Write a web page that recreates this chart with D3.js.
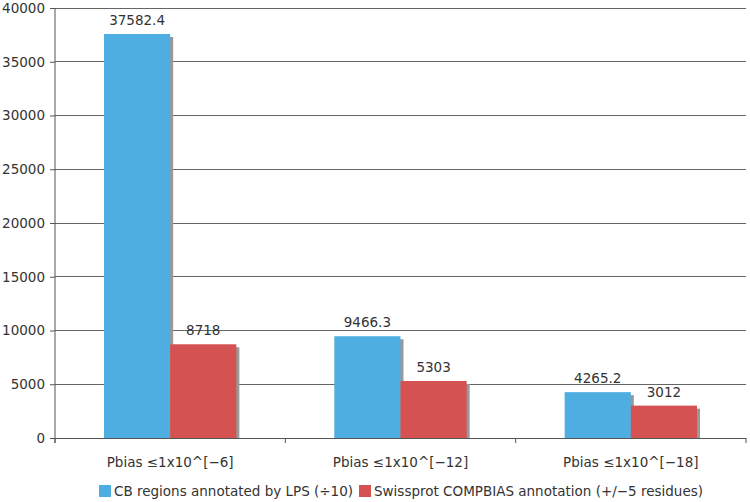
<!DOCTYPE html>
<html><head><meta charset="utf-8">
<script src="https://cdn.jsdelivr.net/npm/d3@7"></script>
<style>body{margin:0;background:#fff}svg{display:block}text{font-family:Verdana,"DejaVu Sans",sans-serif;fill:#333}</style>
</head><body><svg id="c" width="750" height="502"></svg>
<script>
const categories = ["Pbias \u22641x10^[\u22126]", "Pbias \u22641x10^[\u221212]", "Pbias \u22641x10^[\u221218]"];
const seriesNames = ["CB regions annotated by LPS (\u00f710)", "Swissprot COMPBIAS annotation (+/\u22125 residues)"];
const cbValues = [37582.4, 9466.3, 4265.2];
const swissValues = [8718, 5303, 3012];
const valueLabels = [["37582.4", "9466.3", "4265.2"], ["8718", "5303", "3012"]];
const yTicks = [0, 5000, 10000, 15000, 20000, 25000, 30000, 35000, 40000];
const colors = ["#4FAEE1", "#D55252"];

const svg = d3.select("#c");
const m = {l: 55, r: 4, t: 8, b: 64};
const W = 750, H = 502;
const FS = 13.5;
const x0 = d3.scaleBand().domain(categories).range([m.l, W - m.r]).paddingInner(0).paddingOuter(0);
const x1 = d3.scaleBand().domain([0, 1]).range([0, x0.bandwidth()]).paddingOuter(0.74).paddingInner(0);
const y = d3.scaleLinear().domain([0, 40000]).range([H - m.b, m.t]);

// gridlines
svg.append("g").selectAll("line").data(yTicks.slice(1)).join("line")
  .attr("x1", m.l).attr("x2", W - m.r).attr("y1", d => y(d)).attr("y2", d => y(d))
  .attr("stroke", "#666").attr("stroke-width", 1).attr("shape-rendering", "crispEdges");

// y axis
const ya = svg.append("g").attr("transform", `translate(${m.l},0)`)
  .call(d3.axisLeft(y).tickValues(yTicks).tickSize(5).tickPadding(5).tickFormat(d3.format("d")));
ya.select(".domain").attr("stroke", "#555").attr("d", `M0,${y(40000)}V${y(0)+5}`);
ya.selectAll(".tick line").attr("stroke", "#555");
ya.selectAll("text").attr("font-size", FS).attr("fill", "#333").attr("font-family", "Verdana, 'DejaVu Sans', sans-serif");

const series = [cbValues, swissValues];
const data = [];
categories.forEach((c, i) => series.forEach((s, j) => data.push({c, j, v: s[i], lab: valueLabels[j][i]})));

// shadows
svg.append("g").selectAll("rect").data(data).join("rect")
  .attr("x", d => x0(d.c) + x1(d.j) + 3).attr("y", d => y(d.v) + 3)
  .attr("width", x1.bandwidth()).attr("height", d => y(0) - y(d.v) - 3)
  .attr("fill", "#999");
// bars
svg.append("g").selectAll("rect").data(data).join("rect")
  .attr("x", d => x0(d.c) + x1(d.j)).attr("y", d => y(d.v))
  .attr("width", x1.bandwidth()).attr("height", d => y(0) - y(d.v))
  .attr("fill", d => colors[d.j]);

// x axis
const xa = svg.append("g").attr("transform", `translate(0,${y(0)})`);
xa.append("line").attr("x1", m.l).attr("x2", W - m.r).attr("stroke", "#555").attr("shape-rendering", "crispEdges");
xa.selectAll("line.t").data(categories.map(c => x0(c) + x0.bandwidth()).concat([m.l])).join("line").attr("class", "t")
  .attr("x1", d => d).attr("x2", d => d).attr("y1", 0).attr("y2", 5).attr("stroke", "#555");
xa.selectAll("text").data(categories).join("text")
  .attr("x", d => x0(d) + x0.bandwidth() / 2).attr("y", 29)
  .attr("text-anchor", "middle").attr("font-size", FS).text(d => d);

// value labels
svg.append("g").selectAll("text").data(data).join("text")
  .attr("x", d => x0(d.c) + x1(d.j) + x1.bandwidth() / 2).attr("y", d => y(d.v) - 9)
  .attr("text-anchor", "middle").attr("font-size", FS).text(d => d.lab);

// legend
const lg = svg.append("g").attr("transform", `translate(0,491)`);
const pos = [99, 359];
seriesNames.forEach((n, i) => {
  lg.append("rect").attr("x", pos[i]).attr("y", -6).attr("width", 12).attr("height", 12).attr("fill", colors[i]);
  lg.append("text").attr("x", pos[i] + 15).attr("y", 5).attr("font-size", FS).text(n);
});
</script></body></html>
